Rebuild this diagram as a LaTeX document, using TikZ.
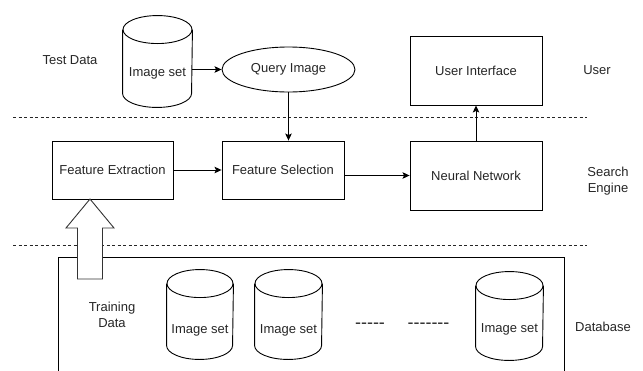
\documentclass[tikz,border=0pt]{standalone}
\usepackage{fontspec}
\setmainfont{Liberation Sans}
\usetikzlibrary{arrows.meta, shapes.geometric}

\tikzset{
  imgset/.style={rectangle, inner sep=0pt, text depth=3pt},
  procbox/.style={rectangle, draw, inner sep=0pt},
  tag/.style={text=black!85, align=center},
  lane/.style={draw=black!85, dash pattern=on 3pt off 2.5pt},
}

% cylinder outline round a named node: #1 node, #2 half width
\newcommand{\cylout}[2]{%
  \draw ([yshift=-14pt]#1.north) ellipse [x radius=#2pt, y radius=14pt];
  \draw ([yshift=-14pt]#1.north west) -- ([yshift=14pt]#1.south west)
      arc [start angle=180, end angle=360, x radius=#2pt, y radius=14pt]
      -- ([yshift=-14pt]#1.north east);
}

\begin{document}
\begin{tikzpicture}[x=1pt, y=-1pt, line width=0.9pt,
                    font=\fontsize{13}{15.5}\selectfont]
\useasboundingbox (0,0) rectangle (643,370);

% swim lanes
\draw [lane] (13,117) -- (587,117);
\draw [lane] (13,245) -- (587,245);

% database frame, open at the bottom
\draw (58,372) -- (58,257) -- (564,257) -- (564,372);

\begin{scope}[every node/.style={text=black!85}]
    \node (testimg) at (157.5, 61.5) [imgset, minimum width=69, minimum height=91, text height=33.4pt] {Image set};
    \node (query) at (288.5, 69.5) [ellipse, draw, minimum width=133, minimum height=45, inner sep=0pt] {Query Image};
    \node (ui) at (476, 70.5) [procbox, minimum width=132, minimum height=69] {User Interface};

    \node (extract) at (112.5, 170) [procbox, minimum width=121, minimum height=58] {Feature Extraction};
    \node (select) at (283, 170) [procbox, minimum width=122, minimum height=58] {Feature Selection};
    \node (neural) at (476, 175.5) [procbox, minimum width=132, minimum height=69] {Neural Network};

    \node (set1) at (200, 314.5) [imgset, minimum width=66, minimum height=89, text height=40pt] {Image set};
    \node (set2) at (288.5, 314.5) [imgset, minimum width=67, minimum height=89, text height=40pt] {Image set};
    \node (set3) at (509.5, 316) [imgset, minimum width=67, minimum height=88, text height=36pt] {Image set};

    \node (dots1) at (370, 326) [font=\fontsize{18}{20}\selectfont] {{-}{-}{-}{-}{-}};
    \node (dots2) at (428.5, 326) [font=\fontsize{18}{20}\selectfont] {{-}{-}{-}{-}{-}{-}{-}};
\end{scope}

\cylout{testimg}{34.5}
\cylout{set1}{33}
\cylout{set2}{33.5}
\cylout{set3}{33.5}

% side labels
\node (testlbl) at (70, 60) [tag] {Test Data};
\node (userlbl) at (597, 70) [tag] {User};
\node (searchlbl) at (608, 181) [tag] {Search\\Engine};
\node (trainlbl) at (112, 315) [tag] {Training\\Data};
\node (dblbl) at (603, 327) [tag] {Database};

\begin{scope}[>={Stealth[length=7pt, width=6.5pt, inset=1.5pt]}]
    \draw [->] (testimg.east |- query.west) -- (query.west);
    \draw [->] (query.south) -- (query.south |- select.north);
    \draw [->] (extract) -- (select);
    \draw [->] (select.east |- neural.west) -- (neural.west);
    \draw [->] (neural) -- (ui);
\end{scope}

% hollow training data arrow
\coordinate (tip) at (90, 199);
\draw [draw=black!80, fill=white] (tip) -- ++(24,29) -- ++(-11.5,0) -- ++(0,51)
    -- ++(-25,0) -- ++(0,-51) -- ++(-11.5,0) -- cycle;
\end{tikzpicture}
\end{document}
